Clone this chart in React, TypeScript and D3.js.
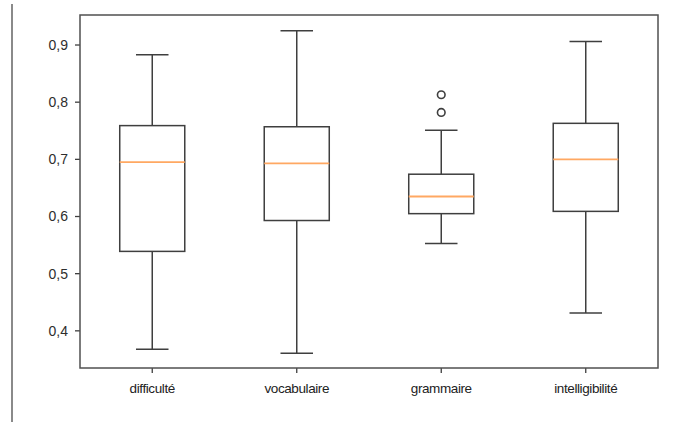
import React from "react";
import * as d3 from "d3";

// box stats
const categories = ["difficulté", "vocabulaire", "grammaire", "intelligibilité"];
const whiskerLow = [0.368, 0.361, 0.553, 0.431];
const q1 = [0.539, 0.593, 0.605, 0.609];
const median = [0.695, 0.693, 0.635, 0.7];
const q3 = [0.759, 0.757, 0.674, 0.763];
const whiskerHigh = [0.883, 0.925, 0.751, 0.906];
const outliers = [[], [], [0.782, 0.813], []];
const yTicks = [0.4, 0.5, 0.6, 0.7, 0.8, 0.9];

const W = 682;
const H = 422;
const margin = { top: 15, right: 24, bottom: 54, left: 80 };

export default function App() {
  const x = d3
    .scaleLinear()
    .domain([0.5, categories.length + 0.5])
    .range([margin.left, W - margin.right]);
  const y = d3
    .scaleLinear()
    .domain([0.335, 0.9525])
    .range([H - margin.bottom, margin.top]);

  const boxW = x(1.45) - x(1);
  const capW = boxW / 2;
  const stroke = "#3f3f3f";
  const fmt = (v: number) => d3.format(".1f")(v).replace(".", ",");

  return (
    <svg
      width={W}
      height={H}
      style={{ position: "fixed", left: 0, top: 0, background: "#fff" }}
      fontFamily="'Liberation Sans', Arial, sans-serif"
    >
      {/* page edge on the left */}
      <line x1={12} x2={12} y1={4} y2={H} stroke="#8a8a8a" strokeWidth={2} />

      {/* y axis ticks */}
      {yTicks.map((t) => (
        <g key={t} transform={`translate(${margin.left},${y(t)})`}>
          <line x1={-5} x2={0} stroke={stroke} strokeWidth={1.3} />
          <text x={-12} dy="0.35em" textAnchor="end" fontSize={14} fill="#2e2e2e">
            {fmt(t)}
          </text>
        </g>
      ))}

      {/* x axis ticks */}
      {categories.map((c, i) => (
        <g key={c} transform={`translate(${x(i + 1)},${H - margin.bottom})`}>
          <line y1={0} y2={5} stroke={stroke} strokeWidth={1.3} />
          <text y={25} textAnchor="middle" fontSize={13.5} fill="#222" letterSpacing={-0.4}>
            {c}
          </text>
        </g>
      ))}

      {/* boxes */}
      {categories.map((c, i) => {
        const cx = x(i + 1);
        return (
          <g key={c} fill="none" stroke={stroke} strokeWidth={1.5}>
            <line x1={cx} x2={cx} y1={y(whiskerHigh[i])} y2={y(q3[i])} />
            <line x1={cx} x2={cx} y1={y(q1[i])} y2={y(whiskerLow[i])} />
            <line x1={cx - capW / 2} x2={cx + capW / 2} y1={y(whiskerHigh[i])} y2={y(whiskerHigh[i])} />
            <line x1={cx - capW / 2} x2={cx + capW / 2} y1={y(whiskerLow[i])} y2={y(whiskerLow[i])} />
            <rect x={cx - boxW / 2} y={y(q3[i])} width={boxW} height={y(q1[i]) - y(q3[i])} />
            <line
              x1={cx - boxW / 2}
              x2={cx + boxW / 2}
              y1={y(median[i])}
              y2={y(median[i])}
              stroke="#ffa862"
              strokeWidth={1.8}
            />
            {outliers[i].map((o) => (
              <circle key={o} cx={cx} cy={y(o)} r={3.8} strokeWidth={1.6} />
            ))}
          </g>
        );
      })}

      {/* frame */}
      <rect
        x={margin.left}
        y={margin.top}
        width={W - margin.left - margin.right}
        height={H - margin.top - margin.bottom}
        fill="none"
        stroke="#505050"
        strokeWidth={1.5}
      />
    </svg>
  );
}
